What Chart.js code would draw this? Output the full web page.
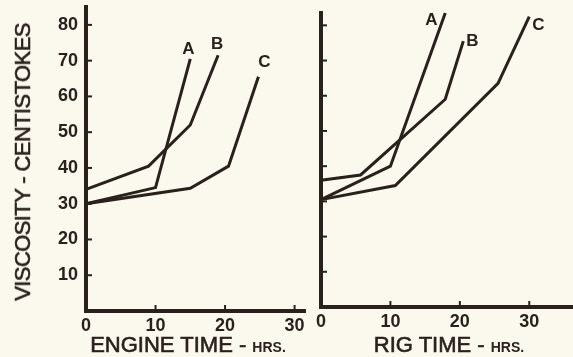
<!DOCTYPE html>
<html>
<head>
<meta charset="utf-8">
<script src="https://cdn.jsdelivr.net/npm/chart.js@4"></script>
<style>
  html, body { margin: 0; padding: 0; background: #fbf8ee; }
  #wrap { position: relative; width: 573px; height: 357px; overflow: hidden; font-family: "Liberation Sans", Arial, sans-serif; color: #2a211d; }
  canvas { position: absolute; left: 0; top: 0; }
  .ttl { position: absolute; white-space: nowrap; font-size: 22px; font-weight: 400; -webkit-text-stroke: 0.6px #2a211d; }
  .ttl small { font-size: 14px; font-weight: 700; -webkit-text-stroke: 0; }
  #ytitle { left: 23px; top: 162px; transform: translate(-50%, -50%) rotate(-90deg); letter-spacing: -0.6px; }
  #xtitle1 { left: 188px; top: 345px; transform: translate(-50%, -50%); }
  #xtitle2 { left: 449px; top: 345px; transform: translate(-50%, -50%); }
</style>
</head>
<body>
<div id="wrap">
  <canvas id="engineChart" width="573" height="357"></canvas>
  <canvas id="rigChart" width="573" height="357"></canvas>
  <div class="ttl" id="ytitle">VISCOSITY - CENTISTOKES</div>
  <div class="ttl" id="xtitle1">ENGINE TIME - <small>HRS.</small></div>
  <div class="ttl" id="xtitle2">RIG TIME - <small>HRS.</small></div>
</div>
<script>
// Data: engine test (hours, centistokes)
const engineA = [{x: 0, y: 30}, {x: 10, y: 34.5}, {x: 15, y: 70.5}];
const engineB = [{x: 0, y: 34}, {x: 9, y: 40.5}, {x: 15, y: 52}, {x: 19, y: 71.5}];
const engineC = [{x: 0, y: 30}, {x: 15, y: 34.3}, {x: 20.5, y: 40.5}, {x: 24.8, y: 65.5}];

// Data: rig test
const rigA = [{x: 0, y: 30.5}, {x: 10, y: 40}, {x: 17.9, y: 83.5}];
const rigB = [{x: 0, y: 36}, {x: 5.7, y: 37.5}, {x: 17.9, y: 59}, {x: 20.5, y: 75.5}];
const rigC = [{x: 0, y: 30.5}, {x: 10.7, y: 34.5}, {x: 25.5, y: 63.5}, {x: 30, y: 82.5}];

const seriesNames = ['A', 'B', 'C'];
const xTicks = [0, 10, 20, 30];
const yTicks = [10, 20, 30, 40, 50, 60, 70, 80];

const ink = '#2a211d';
const tickFont = { family: '"Liberation Sans", Arial, sans-serif', size: 18, weight: '600' };

// where each letter sits relative to the end of its curve (px)
const engineLabelOffsets = [[-2, -10], [-1, -11], [6, -14]];
const rigLabelOffsets = [[-14, 7], [9, 0], [9, 9]];

// inward tick marks + curve letters
const decorPlugin = {
  id: 'decor',
  afterDraw(chart, args, opts) {
    const ctx = chart.ctx;
    const xs = chart.scales.x, ys = chart.scales.y;
    const area = chart.chartArea;
    ctx.save();
    ctx.strokeStyle = ink;
    ctx.lineWidth = 2;
    xTicks.forEach(v => {
      if (v === 0) return;
      const px = xs.getPixelForValue(v);
      ctx.beginPath();
      ctx.moveTo(px, area.bottom);
      ctx.lineTo(px, area.bottom - 6);
      ctx.stroke();
    });
    yTicks.forEach(v => {
      const py = ys.getPixelForValue(v);
      ctx.beginPath();
      ctx.moveTo(area.left, py);
      ctx.lineTo(area.left + 6, py);
      ctx.stroke();
    });
    ctx.fillStyle = ink;
    ctx.font = '600 17px "Liberation Sans", Arial, sans-serif';
    ctx.textAlign = 'center';
    ctx.textBaseline = 'middle';
    chart.data.datasets.forEach((ds, i) => {
      const last = ds.data[ds.data.length - 1];
      const off = opts.offsets[i];
      ctx.fillText(ds.label, xs.getPixelForValue(last.x) + off[0], ys.getPixelForValue(last.y) + off[1]);
    });
    ctx.restore();
  }
};

function makeChart(id, sets, opt) {
  return new Chart(document.getElementById(id), {
    type: 'line',
    data: {
      datasets: sets.map((d, i) => ({
        label: seriesNames[i],
        data: d,
        borderColor: ink,
        borderWidth: 3,
        pointRadius: 0,
        tension: 0,
        fill: false,
        clip: false
      }))
    },
    options: {
      responsive: false,
      animation: false,
      events: [],
      layout: { padding: { left: opt.left, right: opt.right, top: opt.top, bottom: 0 } },
      plugins: {
        legend: { display: false },
        tooltip: { enabled: false },
        decor: { offsets: opt.offsets }
      },
      scales: {
        x: {
          type: 'linear',
          min: 0,
          max: opt.xMax,
          afterBuildTicks: s => { s.ticks = xTicks.map(v => ({ value: v })); },
          afterFit: s => { s.height = opt.xHeight; s.paddingLeft = 0; s.paddingRight = 0; },
          grid: { display: true, drawOnChartArea: false, drawTicks: false },
          border: { display: true, color: ink, width: 4 },
          ticks: { color: ink, font: tickFont, padding: 4, maxRotation: 0 }
        },
        y: {
          type: 'linear',
          min: 0,
          max: opt.yMax,
          afterBuildTicks: s => { s.ticks = yTicks.map(v => ({ value: v })); },
          afterFit: s => { s.width = opt.yWidth; s.paddingTop = 0; s.paddingBottom = 0; },
          grid: { display: true, drawOnChartArea: false, drawTicks: false },
          border: { display: true, color: ink, width: 4 },
          ticks: { display: opt.yLabels, color: ink, font: tickFont, padding: 8 }
        }
      }
    },
    plugins: [decorPlugin]
  });
}

// Engine time panel
makeChart('engineChart', [engineA, engineB, engineC], {
  left: 0, right: 268, top: 7, xHeight: 46, yWidth: 86,
  xMax: 31.5, yMax: 85, yLabels: true, offsets: engineLabelOffsets
});

// Rig time panel
makeChart('rigChart', [rigA, rigB, rigC], {
  left: 305, right: 0, top: 13, xHeight: 50, yWidth: 16,
  xMax: 36.3, yMax: 83.5, yLabels: false, offsets: rigLabelOffsets
});
</script>
</body>
</html>
